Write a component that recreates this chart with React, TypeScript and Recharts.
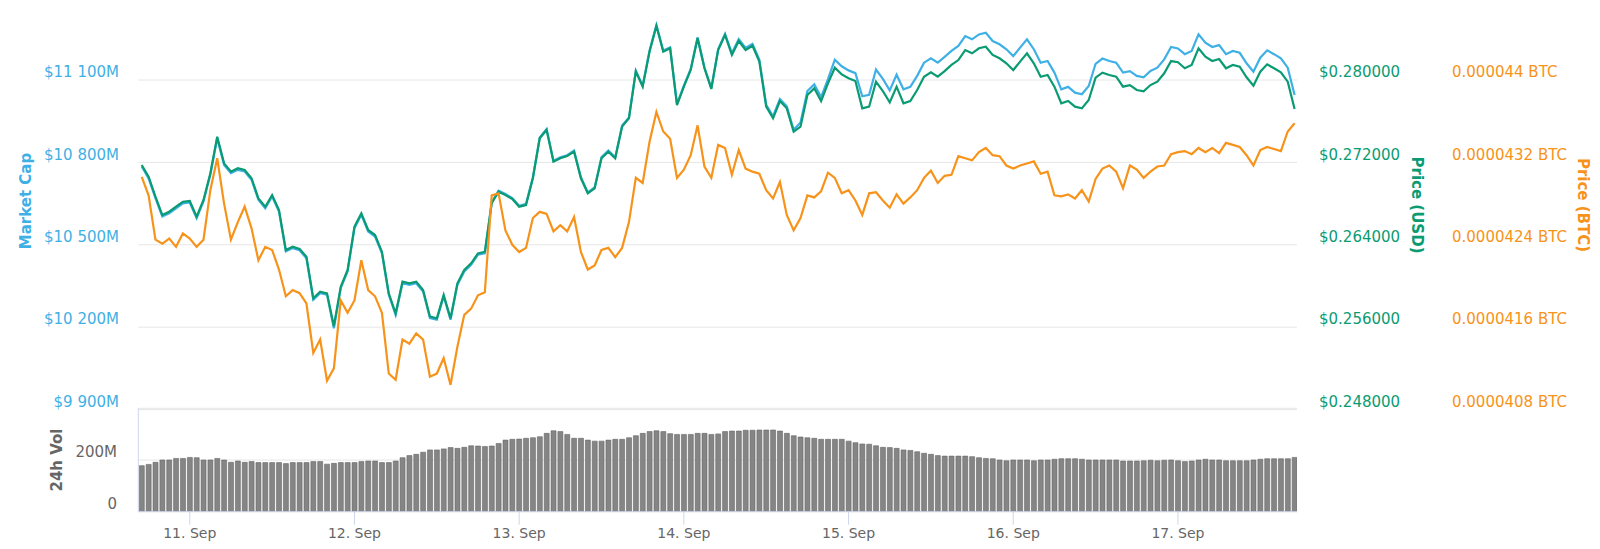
import { LineChart, Line, BarChart, Bar, XAxis, YAxis, CartesianGrid } from 'recharts'

const FONT = '"DejaVu Sans", Verdana, sans-serif'
const BLUE = '#3fb0e5'
const GREEN = '#0a9b73'
const ORANGE = '#f7931a'
const GREY = '#666666'
const AXIS_LINE = '#ccd6eb'
const GRID = '#e6e6e6'

// hours counted from 11 Sep 00:00, first sample is 10 Sep 17:00, one sample per hour
const FIRST_HOUR = -7
const X_DOMAIN = [-7.5, 161.35]

const dayTicks = [0, 24, 48, 72, 96, 120, 144]
const dayLabels = ['11. Sep', '12. Sep', '13. Sep', '14. Sep', '15. Sep', '16. Sep', '17. Sep']

const capTicks = [9900, 10200, 10500, 10800, 11100]
const capLabels = ['$9 900M', '$10 200M', '$10 500M', '$10 800M', '$11 100M']
const usdTicks = [0.248, 0.256, 0.264, 0.272, 0.28]
const usdLabels = ['$0.248000', '$0.256000', '$0.264000', '$0.272000', '$0.280000']
// BTC price kept in satoshi
const btcTicks = [4080, 4160, 4240, 4320, 4400]
const btcLabels = ['0.0000408 BTC', '0.0000416 BTC', '0.0000424 BTC', '0.0000432 BTC', '0.000044 BTC']
const volTicks = [0, 200]
const volLabels = ['0', '200M']

// market cap, $M
const marketCap = [
  10785, 10742, 10670, 10603, 10615, 10633, 10651, 10654, 10597, 10658,
  10755, 10888, 10791, 10761, 10773, 10767, 10737, 10664, 10633, 10676,
  10621, 10476, 10488, 10480, 10451, 10300, 10324, 10318, 10196, 10342,
  10403, 10560, 10609, 10548, 10530, 10469, 10318, 10245, 10360, 10354,
  10360, 10330, 10233, 10227, 10312, 10227, 10354, 10403, 10427, 10464,
  10469, 10655, 10697, 10685, 10670, 10642, 10649, 10746, 10891, 10922,
  10806, 10819, 10826, 10843, 10746, 10691, 10709, 10819, 10843, 10819,
  10934, 10964, 11134, 11079, 11207, 11300, 11207, 11219, 11013, 11079,
  11140, 11256, 11146, 11071, 11213, 11268, 11198, 11249, 11217, 11232,
  11174, 11010, 10968, 11031, 11004, 10919, 10945, 11060, 11084, 11038,
  11103, 11174, 11150, 11135, 11125, 11041, 11046, 11138, 11104, 11062,
  11119, 11066, 11075, 11115, 11163, 11179, 11163, 11184, 11206, 11224,
  11260, 11248, 11266, 11272, 11242, 11230, 11212, 11187, 11218, 11248,
  11212, 11163, 11169, 11127, 11066, 11075, 11054, 11048, 11078, 11159,
  11178, 11169, 11163, 11127, 11132, 11115, 11110, 11133, 11145, 11175,
  11220, 11215, 11194, 11206, 11266, 11236, 11220, 11227, 11194, 11206,
  11199, 11161, 11130, 11181, 11208, 11194, 11179, 11145, 11045,
]

// price, USD
const priceUsd = [
  0.27175, 0.27061, 0.26867, 0.26689, 0.26721, 0.2677, 0.26818, 0.26825, 0.26673, 0.26835,
  0.27094, 0.2745, 0.27191, 0.2711, 0.27143, 0.27126, 0.27046, 0.26851, 0.2677, 0.26883,
  0.26738, 0.26349, 0.26382, 0.2636, 0.26284, 0.2588, 0.25945, 0.25929, 0.2561, 0.25993,
  0.26155, 0.26576, 0.26706, 0.26544, 0.26495, 0.26333, 0.25929, 0.25735, 0.26042, 0.26026,
  0.26042, 0.25961, 0.25702, 0.25686, 0.25913, 0.25686, 0.26026, 0.26155, 0.2622, 0.26317,
  0.26333, 0.26803, 0.26916, 0.26883, 0.26845, 0.2677, 0.26786, 0.27046, 0.27434, 0.27515,
  0.27207, 0.2724, 0.27262, 0.27304, 0.27046, 0.269, 0.26949, 0.2724, 0.27304, 0.2724,
  0.27547, 0.27628, 0.28081, 0.27935, 0.28275, 0.28524, 0.28275, 0.28308, 0.27757, 0.27935,
  0.28097, 0.28405, 0.28114, 0.27913, 0.28291, 0.28437, 0.28243, 0.28379, 0.28291, 0.28333,
  0.28178, 0.27741, 0.27628, 0.27796, 0.27725, 0.27498, 0.27547, 0.27854, 0.27919, 0.27796,
  0.27968, 0.28119, 0.28055, 0.28017, 0.2799, 0.27725, 0.27741, 0.27984, 0.27893, 0.27783,
  0.27935, 0.27774, 0.27796, 0.27903, 0.28032, 0.28075, 0.28032, 0.28087, 0.28146, 0.28194,
  0.28291, 0.28259, 0.28308, 0.28323, 0.28243, 0.28211, 0.28162, 0.28097, 0.28178, 0.28259,
  0.28162, 0.28032, 0.28049, 0.27935, 0.27774, 0.27796, 0.27741, 0.27725, 0.27806, 0.28022,
  0.28071, 0.28049, 0.28032, 0.27935, 0.2795, 0.27903, 0.2789, 0.27951, 0.27984, 0.28065,
  0.28184, 0.28172, 0.28114, 0.28146, 0.28308, 0.28226, 0.28184, 0.28204, 0.28114, 0.28146,
  0.28129, 0.28026, 0.27945, 0.28081, 0.28152, 0.28114, 0.28075, 0.27984, 0.27718,
]

// price, satoshi
const priceBtc = [
  4306, 4288, 4245, 4241, 4246, 4238, 4251, 4246, 4238, 4245,
  4293, 4324, 4280, 4245, 4262, 4277, 4256, 4225, 4238, 4235,
  4216, 4190, 4196, 4193, 4183, 4135, 4148, 4108, 4120, 4186,
  4174, 4186, 4225, 4196, 4190, 4174, 4115, 4109, 4148, 4144,
  4154, 4148, 4112, 4115, 4130, 4104, 4141, 4172, 4178, 4191,
  4194, 4288, 4290, 4254, 4240, 4233, 4237, 4266, 4272, 4270,
  4253, 4259, 4253, 4267, 4233, 4216, 4220, 4235, 4237, 4228,
  4237, 4262, 4305, 4300, 4340, 4369, 4350, 4343, 4305, 4313,
  4327, 4356, 4316, 4305, 4337, 4334, 4308, 4332, 4314, 4311,
  4309, 4293, 4285, 4301, 4269, 4254, 4266, 4288, 4286, 4292,
  4310, 4305, 4290, 4293, 4283, 4269, 4290, 4291, 4283, 4276,
  4289, 4280, 4286, 4293, 4305, 4312, 4300, 4307, 4308, 4326,
  4324, 4322, 4330, 4334, 4327, 4326, 4317, 4314, 4317, 4319,
  4321, 4309, 4311, 4288, 4287, 4289, 4285, 4293, 4282, 4304,
  4314, 4317, 4311, 4295, 4317, 4313, 4305, 4311, 4316, 4317,
  4328, 4330, 4331, 4328, 4334, 4330, 4334, 4329, 4339, 4337,
  4335, 4327, 4317, 4332, 4335, 4333, 4331, 4350, 4358,
]

// 24h volume, $M
const volume = [
  178, 183, 191, 200, 200, 206, 206, 210, 209, 200,
  200, 206, 200, 191, 196, 191, 194, 190, 190, 190,
  190, 186, 190, 190, 190, 194, 194, 184, 187, 190,
  190, 190, 194, 196, 196, 190, 190, 196, 209, 217,
  222, 230, 239, 239, 243, 248, 245, 249, 255, 254,
  252, 254, 264, 277, 280, 281, 284, 286, 290, 303,
  313, 310, 299, 284, 284, 277, 273, 273, 277, 280,
  280, 286, 294, 303, 310, 313, 310, 302, 299, 299,
  299, 303, 303, 299, 301, 310, 312, 312, 315, 315,
  316, 316, 316, 312, 303, 294, 289, 286, 284, 280,
  280, 280, 280, 273, 267, 262, 261, 255, 249, 248,
  245, 239, 237, 232, 226, 222, 217, 215, 215, 215,
  215, 213, 209, 206, 205, 200, 197, 200, 200, 200,
  197, 200, 200, 203, 205, 205, 205, 203, 200, 200,
  200, 200, 200, 196, 196, 196, 197, 199, 197, 199,
  200, 197, 194, 196, 200, 203, 200, 200, 197, 197,
  197, 197, 200, 203, 205, 205, 205, 205, 210,
]

const lineData = marketCap.map((cap, i) => ({
  hour: FIRST_HOUR + i,
  cap,
  usd: priceUsd[i],
  btc: priceBtc[i],
}))

const volData = volume.map((vol, i) => ({ hour: FIRST_HOUR + i, vol }))

const labelFor = (ticks: number[], labels: string[], value: number) => {
  const idx = ticks.findIndex((t) => Math.abs(t - value) < 1e-9)
  return idx >= 0 ? labels[idx] : ''
}

// Highcharts-style y labels: sitting just above their grid line
const makeTick = (ticks: number[], labels: string[], x: number, anchor: 'start' | 'end', color: string) =>
  (props: any) => (
    <text
      x={x}
      y={props.y - 8}
      dy="0.35em"
      textAnchor={anchor}
      fill={color}
      fontSize={15}
      fontFamily={FONT}
    >
      {labelFor(ticks, labels, props.payload.value)}
    </text>
  )

const CapTick = makeTick(capTicks, capLabels, 119, 'end', BLUE)
const UsdTick = makeTick(usdTicks, usdLabels, 1319, 'start', GREEN)
const BtcTick = makeTick(btcTicks, btcLabels, 1452, 'start', ORANGE)
const VolTick = makeTick(volTicks, volLabels, 117, 'end', GREY)

const AxisTitle = ({ cx, cy, angle, color, text }: { cx: number; cy: number; angle: number; color: string; text: string }) => (
  <text
    x={cx}
    y={cy}
    transform={`rotate(${angle} ${cx} ${cy})`}
    textAnchor="middle"
    dominantBaseline="central"
    fill={color}
    fontSize={15}
    fontWeight="bold"
    fontFamily={FONT}
  >
    {text}
  </text>
)

export default function App() {
  return (
    <div style={{ position: 'absolute', left: 0, top: 0, width: 1600, height: 549, background: '#fff' }}>
      <div style={{ position: 'absolute', left: 0, top: 0 }}>
        <LineChart width={1600} height={420} data={lineData} margin={{ top: 18.2, right: 0, bottom: 10.4, left: 0 }}>
          <CartesianGrid yAxisId="cap" vertical={false} horizontalValues={capTicks} stroke={GRID} />
          <XAxis dataKey="hour" type="number" domain={X_DOMAIN} hide height={0} allowDataOverflow />
          <YAxis
            yAxisId="cap"
            orientation="left"
            width={138.3}
            domain={[9900, 11325]}
            ticks={capTicks}
            interval={0}
            tick={CapTick}
            tickLine={false}
            axisLine={false}
            allowDataOverflow
          />
          <YAxis
            yAxisId="usd"
            orientation="right"
            width={150}
            domain={[0.248, 0.286]}
            ticks={usdTicks}
            interval={0}
            tick={UsdTick}
            tickLine={false}
            axisLine={false}
            allowDataOverflow
          />
          <YAxis
            yAxisId="btc"
            orientation="right"
            width={153}
            domain={[4080, 4460]}
            ticks={btcTicks}
            interval={0}
            tick={BtcTick}
            tickLine={false}
            axisLine={false}
            allowDataOverflow
          />
          <Line yAxisId="cap" dataKey="cap" type="linear" stroke={BLUE} strokeWidth={2.2} dot={false} isAnimationActive={false} />
          <Line yAxisId="usd" dataKey="usd" type="linear" stroke={GREEN} strokeWidth={2.2} dot={false} isAnimationActive={false} />
          <Line yAxisId="btc" dataKey="btc" type="linear" stroke={ORANGE} strokeWidth={2.2} dot={false} isAnimationActive={false} />
        </LineChart>
      </div>

      <div style={{ position: 'absolute', left: 0, top: 400 }}>
        <BarChart width={1600} height={149} data={volData} margin={{ top: 8.3, right: 303, bottom: 0, left: 0 }}>
          <CartesianGrid vertical={false} stroke={GRID} />
          <XAxis
            dataKey="hour"
            type="number"
            domain={X_DOMAIN}
            ticks={dayTicks}
            interval={0}
            height={37.3}
            tickFormatter={(v: number) => labelFor(dayTicks, dayLabels, v)}
            tick={{ fill: GREY, fontSize: 14, fontFamily: FONT }}
            tickSize={13}
            tickMargin={3}
            tickLine={{ stroke: AXIS_LINE }}
            axisLine={{ stroke: AXIS_LINE }}
            allowDataOverflow
          />
          <YAxis
            width={138.3}
            domain={[0, 400]}
            ticks={volTicks}
            interval={0}
            tick={VolTick}
            tickLine={false}
            axisLine={{ stroke: AXIS_LINE }}
            allowDataOverflow
          />
          <Bar dataKey="vol" fill="#858585" stroke="#666666" strokeWidth={0.6} barSize={5} isAnimationActive={false} />
        </BarChart>
      </div>

      <svg width={1600} height={549} style={{ position: 'absolute', left: 0, top: 0, pointerEvents: 'none' }}>
        <AxisTitle cx={26} cy={201} angle={-90} color={BLUE} text="Market Cap" />
        <AxisTitle cx={1417} cy={205} angle={90} color={GREEN} text="Price (USD)" />
        <AxisTitle cx={1583} cy={205} angle={90} color={ORANGE} text="Price (BTC)" />
        <AxisTitle cx={57} cy={460} angle={-90} color={GREY} text="24h Vol" />
      </svg>
    </div>
  )
}
